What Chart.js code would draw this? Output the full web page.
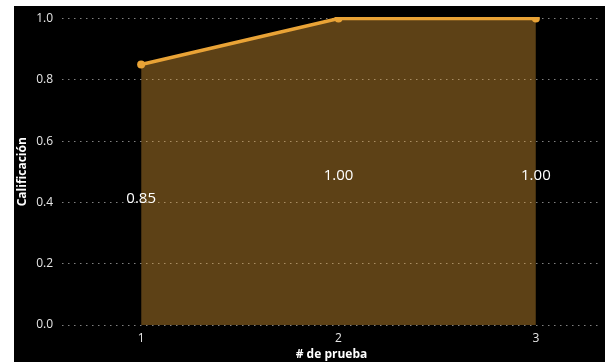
<!DOCTYPE html>
<html>
<head>
<meta charset="utf-8">
<script src="https://cdn.jsdelivr.net/npm/chart.js@4/dist/chart.umd.min.js"></script>
<style>
  html, body { margin: 0; padding: 0; background: #ffffff; }
  #frame { position: absolute; left: 14px; top: 6px; width: 591px; height: 356px; background: #000000; }
  canvas { display: block; }
</style>
</head>
<body>
<div id="frame"><canvas id="chart" width="591" height="356"></canvas></div>
<script>
// Test numbers and their scores
const categories = ['1', '2', '3'];
const scores = [0.85, 1.00, 1.00];
const yTicks = [0, 0.2, 0.4, 0.6, 0.8, 1.0];

const FONT = "'Segoe UI', 'Open Sans', sans-serif";
const LINE = 'rgb(233,163,54)';
const FILL = 'rgba(233,163,54,0.40)';

// Writes each score in the middle of its filled column
const valueLabels = {
  id: 'valueLabels',
  afterDatasetsDraw(chart) {
    const { ctx, scales } = chart;
    ctx.save();
    ctx.font = '15px ' + FONT;
    ctx.fillStyle = '#ffffff';
    ctx.textAlign = 'center';
    ctx.textBaseline = 'middle';
    scores.forEach((v, i) => {
      const x = scales.x.getPixelForValue(i + 1);
      const y = scales.y.getPixelForValue(v / 2) + 3.5;
      ctx.fillText(v.toFixed(2), x, y);
    });
    ctx.restore();
  }
};

new Chart(document.getElementById('chart'), {
  type: 'line',
  data: {
    datasets: [{
      data: scores.map((v, i) => ({ x: i + 1, y: v })),
      borderColor: LINE,
      backgroundColor: FILL,
      borderWidth: 3.5,
      fill: 'origin',
      pointRadius: 4,
      pointHoverRadius: 4,
      pointBackgroundColor: LINE,
      pointBorderWidth: 0,
      tension: 0,
      clip: 1.5
    }]
  },
  options: {
    responsive: false,
    animation: false,
    events: [],
    layout: { padding: { top: 12.5, right: 0, left: 0, bottom: 0 } },
    plugins: { legend: { display: false }, tooltip: { enabled: false } },
    scales: {
      x: {
        type: 'linear',
        min: 0.599,
        max: 3.33,
        afterBuildTicks: s => { s.ticks = categories.map((c, i) => ({ value: i + 1 })); },
        afterFit: s => { s.height = 37; s.paddingLeft = 0; s.paddingRight = 0; },
        ticks: {
          color: '#e6e6e6',
          font: { family: FONT, size: 12 },
          padding: 6,
          maxRotation: 0,
          callback: v => categories[v - 1]
        },
        grid: { display: false, drawTicks: false },
        border: { display: false },
        title: {
          display: true,
          text: '# de prueba',
          color: '#ffffff',
          font: { family: FONT, size: 12, weight: 'bold' },
          padding: { top: 0, bottom: 0 }
        }
      },
      y: {
        min: 0,
        max: 1,
        afterBuildTicks: s => { s.ticks = yTicks.map(v => ({ value: v })); },
        afterFit: s => { s.width = 48; s.paddingTop = 0; s.paddingBottom = 0; },
        ticks: {
          color: '#e6e6e6',
          font: { family: FONT, size: 12 },
          padding: 9,
          callback: v => Number(v).toFixed(1)
        },
        grid: {
          color: 'rgba(150,150,150,0.85)',
          lineWidth: 1,
          drawTicks: false
        },
        border: { display: false, dash: [1.5, 4.5] },
        title: {
          display: true,
          text: 'Calificación',
          color: '#ffffff',
          font: { family: FONT, size: 12, weight: 'bold' },
          padding: { top: 1, bottom: 0 }
        }
      }
    }
  },
  plugins: [valueLabels]
});
</script>
</body>
</html>
